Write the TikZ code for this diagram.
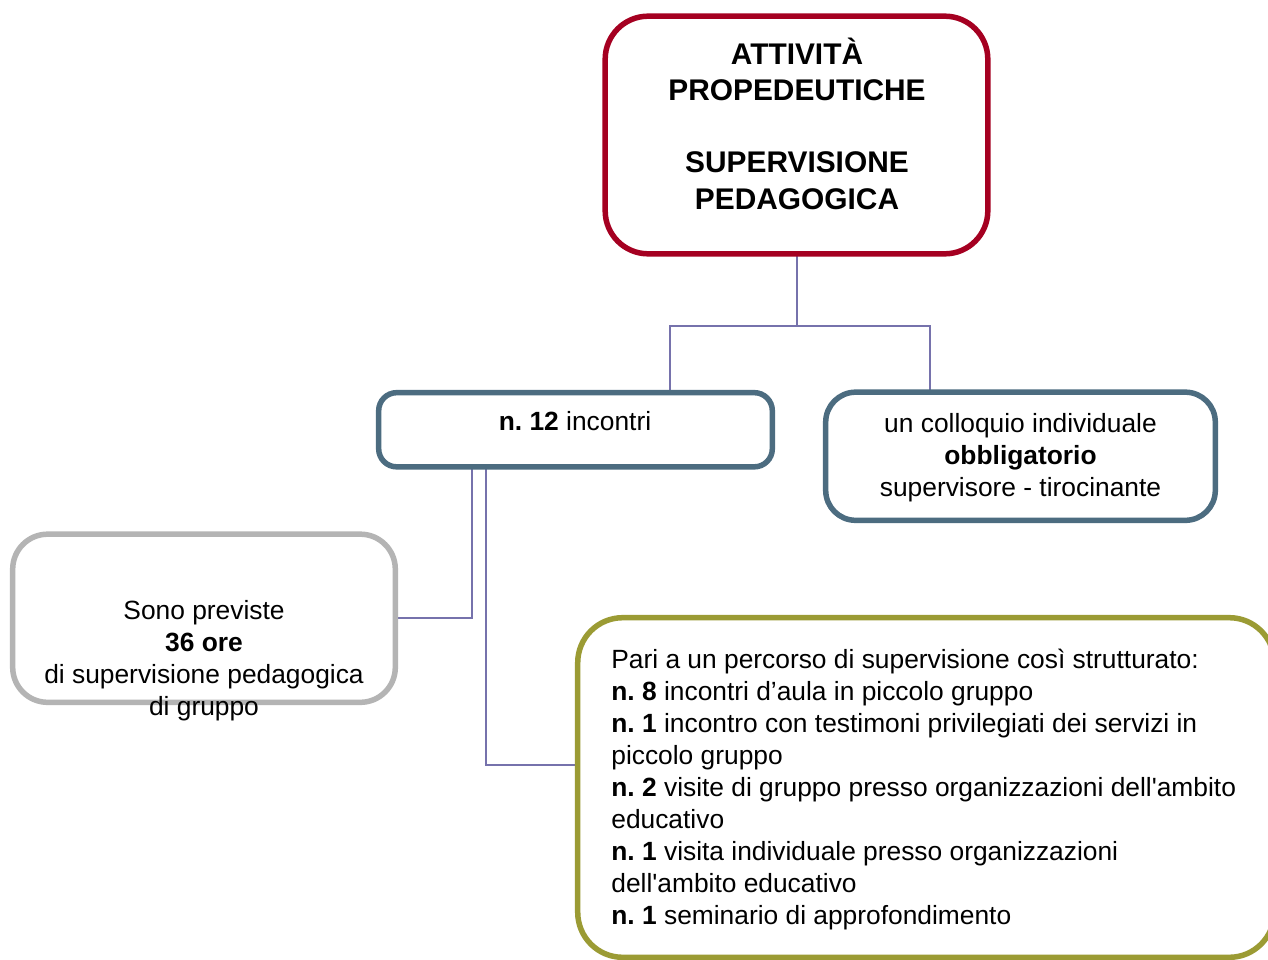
\documentclass[tikz,border=0pt]{standalone}
\usepackage{fontspec}
\setmainfont{Liberation Sans}[Ligatures=TeXOff]
\frenchspacing
\definecolor{cred}{RGB}{165,0,33}
\definecolor{cslate}{RGB}{76,108,128}
\definecolor{cgray}{RGB}{180,180,180}
\definecolor{colive}{RGB}{155,155,52}
\definecolor{cconn}{RGB}{118,114,172}
\begin{document}
\begin{tikzpicture}[x=0.02cm,y=-0.02cm,
  box/.style={draw, fill=white, inner sep=0pt, line width=1.1mm, rectangle},
  conn/.style={draw=cconn, line width=0.4mm},
  txt/.style={inner sep=0pt, font=\fontsize{15}{18.2}\selectfont\frenchspacing},
  ttl/.style={inner sep=0pt, font=\fontsize{17}{20.5}\selectfont\bfseries}]
\useasboundingbox (0,0) rectangle (1268,960);
\clip (0,0) rectangle (1268,960);
\fill[white] (0,0) rectangle (1268,960);
% box positions
\path (796.5,135) node[minimum width=76.4mm, minimum height=47.4mm, inner sep=0pt] (top) {};
\path (575.5,429.75) node[minimum width=78.6mm, minimum height=14.7mm, inner sep=0pt] (n12) {};
\path (1020.5,456.25) node[minimum width=77.8mm, minimum height=25.5mm, inner sep=0pt] (coll) {};
\path (204,618.25) node[minimum width=76.4mm, minimum height=33.5mm, inner sep=0pt] (ore) {};
\path (926,787.5) node[minimum width=139.2mm, minimum height=67.8mm, inner sep=0pt] (perc) {};
\coordinate (jL) at (670,326);
\coordinate (jR) at (930,326);
% connectors
\draw[conn] (top.south) |- (jL) -- (jL |- n12.north);
\draw[conn] (top.south) |- (jR) -- (jR |- coll.north);
\draw[conn] ([xshift=-20.7mm]n12.south) |- (ore.east);
\draw[conn] ([xshift=-17.9mm]n12.south) |- ([yshift=4.5mm]perc.west);
% boxes
\draw[box, draw=cred, rounded corners=8.6mm] (top.south west) rectangle (top.north east);
\draw[box, draw=cslate, rounded corners=3.6mm] (n12.south west) rectangle (n12.north east);
\draw[box, draw=cslate, rounded corners=6mm] (coll.south west) rectangle (coll.north east);
\draw[box, draw=cgray, rounded corners=7mm] (ore.south west) rectangle (ore.north east);
\draw[box, draw=colive, rounded corners=9mm] (perc.south west) rectangle (perc.north east);
% texts (anchor=base is the baseline of the last line)
\node[ttl, align=center, anchor=base] (ttop) at (797,209)
  {ATTIVITÀ\\PROPEDEUTICHE\\ \\SUPERVISIONE\\PEDAGOGICA};
\node[txt, anchor=base] (tn12) at (575,430) {\textbf{n. 12} incontri};
\node[txt, align=center, anchor=base] (tcoll) at (1020.5,496)
  {un colloquio individuale\\\textbf{obbligatorio}\\supervisore - tirocinante};
\node[txt, align=center, anchor=base] (tore) at (204,715)
  {Sono previste\\\textbf{36 ore}\\di supervisione pedagogica\\di gruppo};
\node[txt, align=left, anchor=base west] (tperc) at (611,924)
  {Pari a un percorso di supervisione così strutturato:\\
   \textbf{n. 8} incontri d’aula in piccolo gruppo\\
   \textbf{n. 1} incontro con testimoni privilegiati dei servizi in\\
   piccolo gruppo\\
   \textbf{n. 2} visite di gruppo presso organizzazioni dell'ambito\\
   educativo\\
   \textbf{n. 1} visita individuale presso organizzazioni\\
   dell'ambito educativo\\
   \textbf{n. 1} seminario di approfondimento};
\end{tikzpicture}
\end{document}
